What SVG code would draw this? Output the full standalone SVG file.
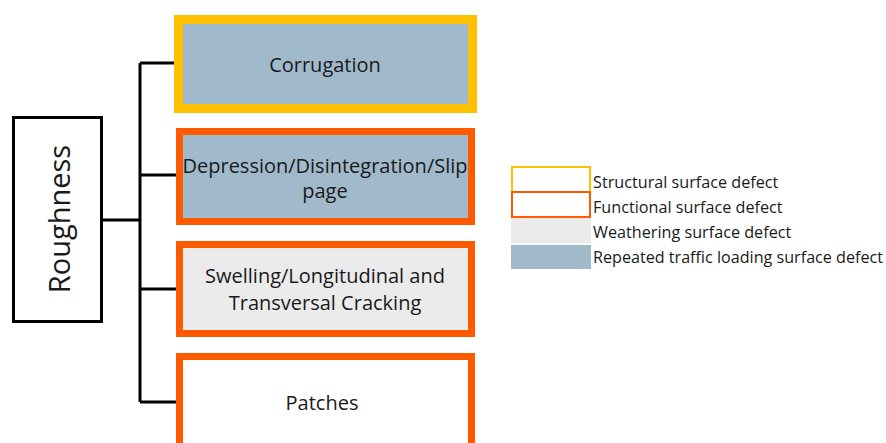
<svg xmlns="http://www.w3.org/2000/svg" width="886" height="443" viewBox="0 0 886 443">
<style>
text{font-family:"Open Sans","Liberation Sans",sans-serif;fill:#1a1a1a;text-anchor:middle;dominant-baseline:central}
.n{font-size:20px}
.lg{font-size:16.2px;text-anchor:start}
.conn{stroke:#000;stroke-width:3;fill:none}
.gold{stroke:#FFC000}
.org{stroke:#FF5A00}
.blue{fill:#A0B9CB}
.gray{fill:#EBEBEB}
.white{fill:#fff}
</style>
<rect width="886" height="443" fill="#fff"/>
<g id="connectors">
<path class="conn" d="M140 63V402M140 63H176M140 175H178M140 289H178M140 402H178M102 220H140"/>
</g>
<g id="roughness">
<rect x="13.5" y="117.5" width="88" height="204" fill="#fff" stroke="#000" stroke-width="3"/>
<text transform="translate(58 219) rotate(-90)" style="font-size:29px">Roughness</text>
</g>
<g id="corrugation">
<rect class="blue gold" x="178.5" y="19.5" width="294" height="89" stroke-width="9"/>
<text class="n" x="325" y="64">Corrugation</text>
</g>
<g id="depression">
<rect class="blue org" x="179.5" y="131.5" width="292" height="90" stroke-width="7"/>
<text class="n" x="325" y="165" textLength="285" lengthAdjust="spacingAndGlyphs">Depression/Disintegration/Slip</text>
<text class="n" x="325" y="190">page</text>
</g>
<g id="swelling">
<rect class="gray org" x="179.5" y="244.5" width="292" height="89" stroke-width="7"/>
<text class="n" x="325" y="275">Swelling/Longitudinal and</text>
<text class="n" x="325" y="302">Transversal Cracking</text>
</g>
<g id="patches">
<rect class="white org" x="179.5" y="356.5" width="292" height="90" stroke-width="7"/>
<text class="n" x="322" y="402">Patches</text>
</g>
<g id="legend">
<rect x="512" y="167" width="78" height="25" fill="#fff" stroke="#FFC000" stroke-width="2"/>
<rect x="512" y="192" width="78" height="25" fill="#fff" stroke="#FF5A00" stroke-width="2"/>
<rect x="511" y="218" width="80" height="25" fill="#EBEBEB"/>
<rect x="511" y="245" width="80" height="24" fill="#A0B9CB"/>
<text class="lg" x="593" y="182">Structural surface defect</text>
<text class="lg" x="593" y="207">Functional surface defect</text>
<text class="lg" x="593" y="232">Weathering surface defect</text>
<text class="lg" x="593" y="257" textLength="290" lengthAdjust="spacingAndGlyphs">Repeated traffic loading surface defect</text>
</g>
</svg>
